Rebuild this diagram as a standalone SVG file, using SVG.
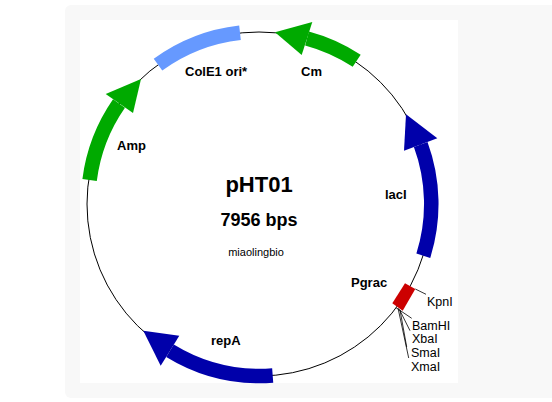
<svg xmlns="http://www.w3.org/2000/svg" width="552" height="402" viewBox="0 0 552 402">
<style>
text{font-family:"Liberation Sans",Arial,sans-serif;fill:#000}
.b{font-size:13px;font-weight:bold}
.s{font-size:12.500px}
.arc{fill:none;stroke-width:14.500}
.green{stroke:#00aa00}.greenf{fill:#00aa00}
.blue{stroke:#0000aa}.bluef{fill:#0000aa}
.tick{stroke:#000;stroke-width:.8;fill:none}
</style>
<rect x="65" y="5" width="500" height="393" rx="6" fill="#f8f8f8"/>
<rect x="80" y="20" width="378" height="363" fill="#fff"/>
<g id="connectors">
<circle cx="259" cy="204" r="172" fill="none" stroke="#000" stroke-width="1"/>
<path class="tick" d="M415.3 289L426 294.300M396 307.700L411.700 318.300M399.300 309.300L410 330.700M400 310L406.700 347M398 308L408.700 358"/>
</g>
<g id="Amp">
<path class="arc green" d="M89.600 180A172 172 0 0 1 119 103.500"/>
<polygon class="greenf" points="141,79 105.700,94 133,113"/>
<text class="b" x="117" y="150">Amp</text>
</g>
<g id="ColE1">
<path class="arc" stroke="#6699ff" d="M158 64.700A172 172 0 0 1 240 32.800"/>
<text class="b" x="185" y="76">ColE1 ori*</text>
</g>
<g id="Cm">
<path class="arc green" d="M356.700 60.800A172 172 0 0 0 307 38.500"/>
<polygon class="greenf" points="275,32.300 312.300,22 301.700,55"/>
<text class="b" x="301" y="76">Cm</text>
</g>
<g id="lacI">
<path class="arc blue" d="M423.300 255.700A172 172 0 0 0 420.700 144.500"/>
<polygon class="bluef" points="406,114.300 437.300,138.300 404,150.700"/>
<text class="b" x="385" y="199">lacI</text>
</g>
<g id="repA">
<path class="arc blue" d="M272.700 375.500A172 172 0 0 1 170 350.700"/>
<polygon class="bluef" points="143.300,330.700 179.300,335.700 160.700,365.700"/>
<text class="b" x="211" y="345">repA</text>
</g>
<g id="Pgrac">
<polygon fill="#cc0000" points="405,283.300 415.300,289 402.700,310.700 392.300,303.300"/>
<text class="b" x="351" y="287">Pgrac</text>
</g>
<g id="sites">
<text class="s" x="427" y="306">KpnI</text>
<text class="s" x="412" y="329.500">BamHI</text>
<text class="s" x="412" y="343">XbaI</text>
<text class="s" x="411" y="357">SmaI</text>
<text class="s" x="411" y="370.500">XmaI</text>
</g>
<g id="title">
<text x="259" y="192" text-anchor="middle" font-size="22" font-weight="bold">pHT01</text>
<text x="259" y="226" text-anchor="middle" font-size="18" font-weight="bold">7956 bps</text>
<text x="256" y="256" text-anchor="middle" font-size="11">miaolingbio</text>
</g>
</svg>
